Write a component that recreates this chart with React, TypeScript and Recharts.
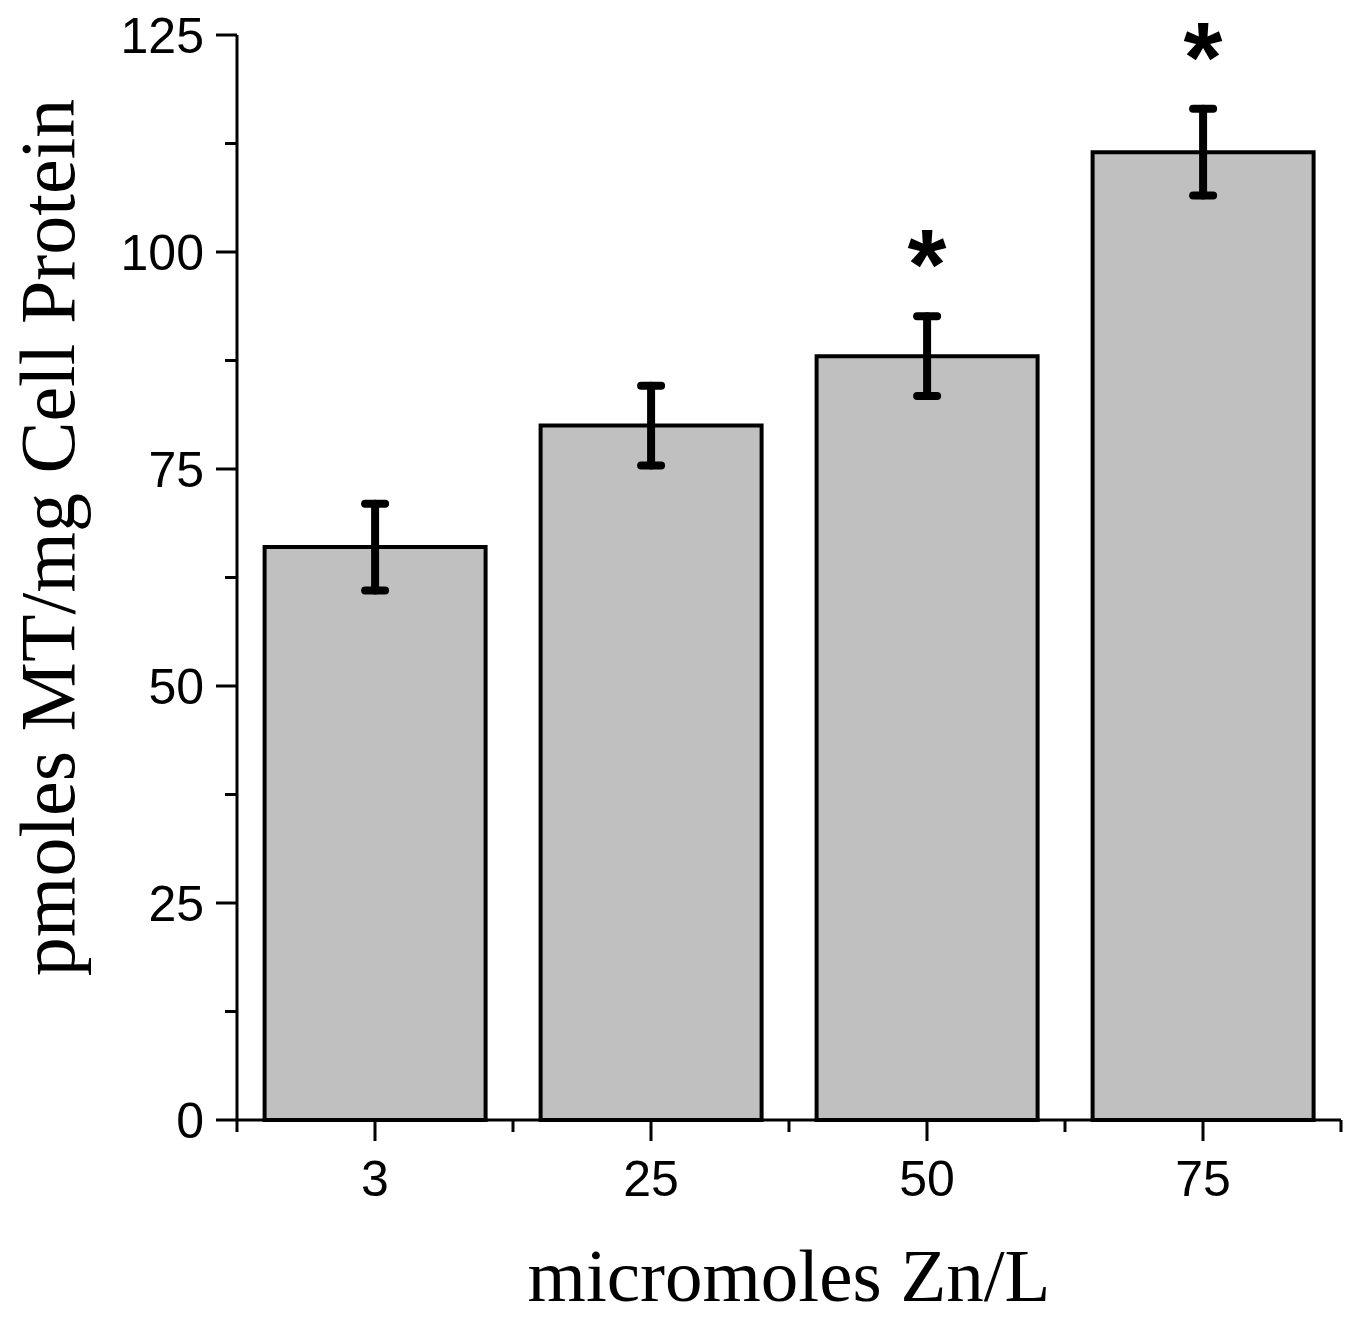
import React from 'react';
import { ComposedChart, Bar, Line, XAxis, YAxis, ErrorBar } from 'recharts';

const categories = ['3', '25', '50', '75'];
const mtValues = [66, 80, 88, 111.5];
const mtErrors = [5, 4.6, 4.6, 5];
const significant = [false, false, true, true];
const yTicks = [0, 12.5, 25, 37.5, 50, 62.5, 75, 87.5, 100, 112.5, 125];

const data = categories.map((c, i) => ({
  dose: c,
  mt: mtValues[i],
  err: mtErrors[i],
  star: significant[i] ? mtValues[i] + mtErrors[i] : null,
}));

const W = 1353;
const H = 1318;
const M = { top: 35, right: 12, left: 0, bottom: 0 };
const Y_W = 237;
const X_H = 198;
const BAND = (W - M.left - M.right - Y_W) / categories.length;

const sans = '"Liberation Sans", Arial, sans-serif';
const serif = '"Liberation Serif", "Times New Roman", serif';

const YTick = (props: any) => {
  const { x, y, payload } = props;
  const major = payload.value % 25 === 0;
  return (
    <g>
      <line x1={x - (major ? 21 : 12)} x2={x} y1={y} y2={y} stroke="#000" strokeWidth={3} />
      {major && (
        <text x={x - 33} y={y} dy="0.36em" textAnchor="end" fontFamily={sans} fontSize={50} fill="#000">
          {payload.value}
        </text>
      )}
    </g>
  );
};

const XTick = (props: any) => {
  const { x, y, payload, index } = props;
  const half = BAND / 2;
  return (
    <g>
      <line x1={x} x2={x} y1={y} y2={y + 21} stroke="#000" strokeWidth={3} />
      <line x1={x - half} x2={x - half} y1={y} y2={y + 12} stroke="#000" strokeWidth={3} />
      {index === categories.length - 1 && (
        <line x1={x + half} x2={x + half} y1={y} y2={y + 12} stroke="#000" strokeWidth={3} />
      )}
      <text x={x} y={y + 76} textAnchor="middle" fontFamily={sans} fontSize={50} fill="#000">
        {payload.value}
      </text>
    </g>
  );
};

const Star = (props: any) => {
  const { cx, cy, value } = props;
  if (value == null || cy == null) return <g key={props.key} />;
  return (
    <text key={props.key} x={cx} y={cy - 17} textAnchor="middle" fontFamily={sans} fontWeight="bold" fontSize={100} fill="#000">
      *
    </text>
  );
};

export default function App() {
  return (
    <div style={{ width: W, height: H, background: '#fff' }}>
      <style>{'body{margin:0}'}</style>
      <ComposedChart width={W} height={H} data={data} margin={M} barCategoryGap="10%">
        <XAxis
          dataKey="dose"
          height={X_H}
          axisLine={{ stroke: '#000', strokeWidth: 3 }}
          tickLine={false}
          tickSize={0}
          tickMargin={0}
          tick={<XTick />}
          interval={0}
          label={({ viewBox }: any) => (
            <text x={viewBox.x + viewBox.width / 2} y={viewBox.y + 181} textAnchor="middle" fontFamily={serif} fontSize={75} fill="#000">
              micromoles Zn/L
            </text>
          )}
        />
        <YAxis
          width={Y_W}
          domain={[0, 125]}
          ticks={yTicks}
          interval={0}
          axisLine={{ stroke: '#000', strokeWidth: 3 }}
          tickLine={false}
          tickSize={0}
          tickMargin={0}
          tick={<YTick />}
          label={({ viewBox }: any) => {
            const cy = viewBox.y + viewBox.height / 2 - 40;
            return (
              <text x={74} y={cy} transform={`rotate(-90, 74, ${cy})`} textAnchor="middle" fontFamily={serif} fontSize={78} fill="#000">
                pmoles MT/mg Cell Protein
              </text>
            );
          }}
        />
        <Bar dataKey="mt" fill="#c0c0c0" stroke="#000" strokeWidth={4} isAnimationActive={false}>
          <ErrorBar dataKey="err" width={10} stroke="#000" strokeWidth={8} strokeLinecap="round" />
        </Bar>
        <Line dataKey="star" stroke="none" dot={<Star />} activeDot={false} isAnimationActive={false} legendType="none" />
      </ComposedChart>
    </div>
  );
}
